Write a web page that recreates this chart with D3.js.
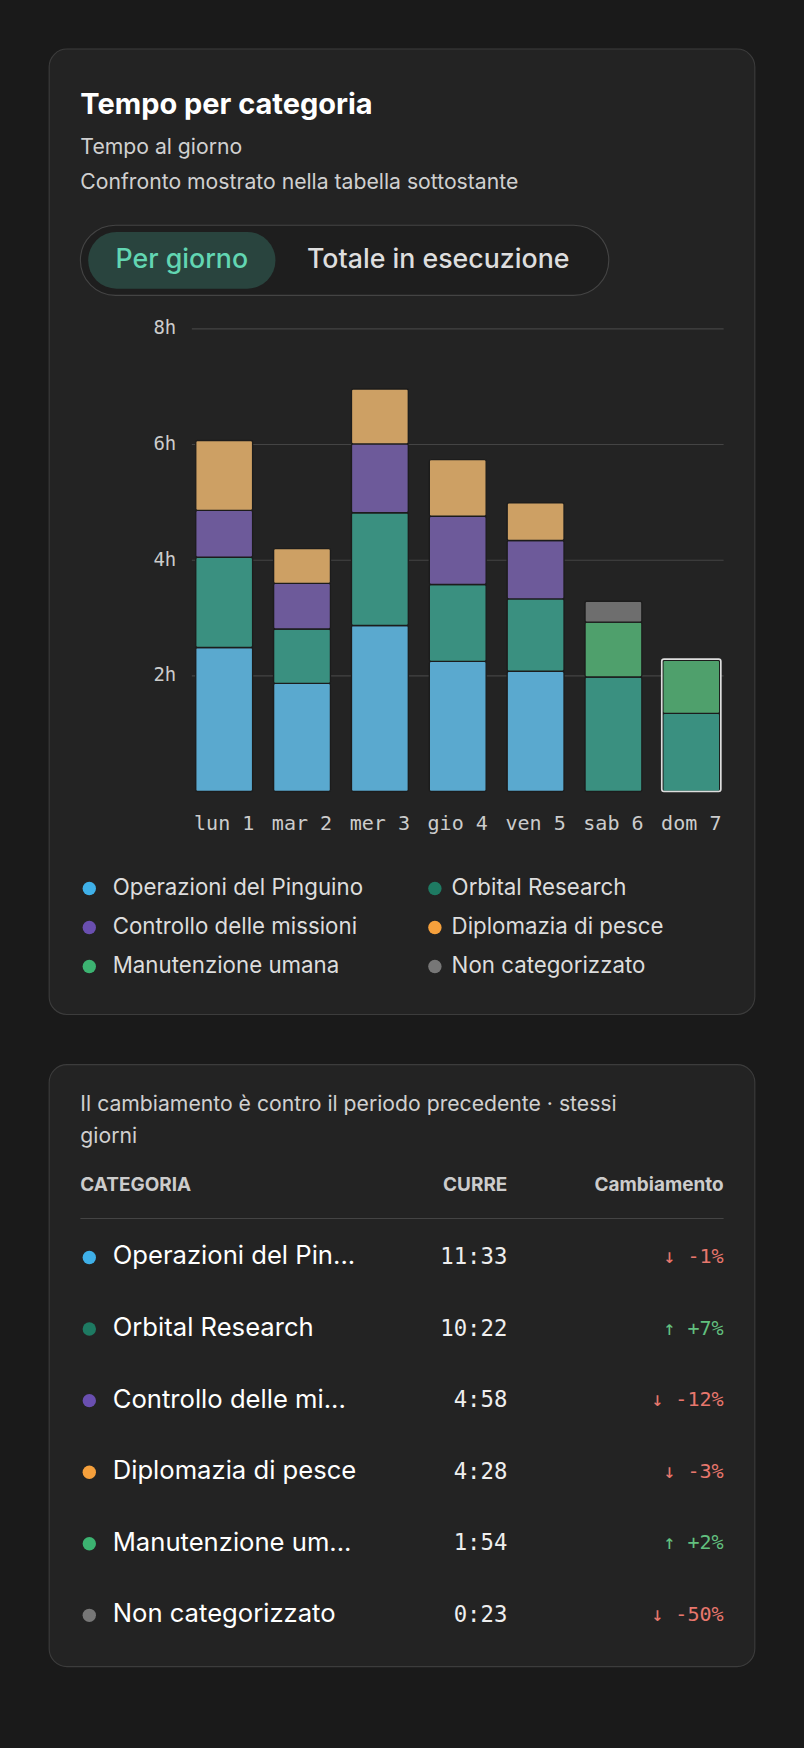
<!DOCTYPE html>
<html><head><meta charset="utf-8">
<script src="https://cdn.jsdelivr.net/npm/d3@7"></script>
<style>body{margin:0;background:#1a1a1a;}svg{display:block;}</style>
</head><body><svg id="c" width="804" height="1748" viewBox="0 0 721 1568"></svg>
<script>
const days = ["lun 1","mar 2","mer 3","gio 4","ven 5","sab 6","dom 7"];
const categories = ["Operazioni del Pinguino","Orbital Research","Controllo delle missioni","Diplomazia di pesce","Manutenzione umana","Non categorizzato"];
const pinguino = [2.49,1.87,2.87,2.25,2.08,0,0];
const orbital = [1.56,0.94,1.95,1.33,1.25,1.98,1.35];
const controllo = [0.81,0.79,1.19,1.18,1.01,0,0];
const diplomazia = [1.21,0.60,0.95,0.98,0.65,0,0];
const manutenzione = [0,0,0,0,0,0.95,0.92];
const noncat = [0,0,0,0,0,0.36,0];
const yTicks = [2,4,6,8];
const tableNames = ["Operazioni del Pin...","Orbital Research","Controllo delle mi...","Diplomazia di pesce","Manutenzione um...","Non categorizzato"];
const tableTimes = ["11:33","10:22","4:58","4:28","1:54","0:23"];
const tableChange = [-1,7,-12,-3,2,-50];

const barColors = ["#5aa9cf","#3a9080","#6d5a9a","#cda064","#4fa06c","#6e6e6e"];
const dotColors = ["#3fb0e8","#1e7a62","#6a4fb0","#f5a03c","#3cb371","#777"];
const series = [pinguino,orbital,controllo,diplomazia,manutenzione,noncat];
const sans = "Inter, 'Noto Sans', sans-serif", mono = "'DejaVu Sans Mono', monospace";

const svg = d3.select("#c");
function card(y,h){svg.append("rect").attr("x",44).attr("y",y).attr("width",633).attr("height",h).attr("rx",16).attr("fill","#232323").attr("stroke","#3c3c3c");}
card(44,866); card(955,540);
const T=(x,y,t,o={})=>svg.append("text").attr("x",x).attr("y",y).text(t).attr("font-family",o.f||sans).attr("font-size",o.s||19).attr("fill",o.c||"#d0d0d0").attr("font-weight",o.w||400).attr("text-anchor",o.a||"start").attr("dominant-baseline","middle");

T(72,95,"Tempo per categoria",{s:26,w:700,c:"#fff"});
T(72,133,"Tempo al giorno");
T(72,164,"Confronto mostrato nella tabella sottostante");
svg.append("rect").attr("x",72).attr("y",202).attr("width",474).attr("height",63).attr("rx",31.5).attr("fill","#1e1e1e").attr("stroke","#444");
svg.append("rect").attr("x",79).attr("y",208).attr("width",168).attr("height",51).attr("rx",25.5).attr("fill","#29443e");
T(163,234,"Per giorno",{s:24,w:500,c:"#62d6b2",a:"middle"});
T(393,234,"Totale in esecuzione",{s:24,w:500,c:"#dedede",a:"middle"});

const x = d3.scaleBand().domain(days).range([172,649]).paddingInner(0.27).paddingOuter(0.05);
const y = d3.scaleLinear().domain([0,8]).range([710,295]);
const g = svg.append("g");
g.selectAll("line.grid").data(yTicks).join("line").attr("x1",172).attr("x2",649).attr("y1",d=>y(d)).attr("y2",d=>y(d)).attr("stroke","#444");
g.selectAll("text.yt").data(yTicks).join("text").attr("x",158).attr("y",d=>y(d)).text(d=>d+"h").attr("text-anchor","end").attr("dominant-baseline","middle").attr("font-family",mono).attr("font-size",17).attr("fill","#ccc");
const table = days.map((d,i)=>{const o={day:d};categories.forEach((c,k)=>o[c]=series[k][i]);return o;});
const stacked = d3.stack().keys(categories)(table);
stacked.forEach((layer,k)=>{
  g.selectAll(null).data(layer.filter(s=>s[1]-s[0]>0)).join("rect")
   .attr("x",s=>x(s.data.day)).attr("width",x.bandwidth())
   .attr("y",s=>y(s[1])).attr("height",s=>y(s[0])-y(s[1]))
   .attr("fill",barColors[k]).attr("stroke","#1c1c1c").attr("stroke-width",1.2).attr("rx",1.5);
});
const last = table[6], tot = d3.sum(categories,c=>last[c]);
g.append("rect").attr("x",x(days[6])-1).attr("width",x.bandwidth()+2).attr("y",y(tot)-1).attr("height",y(0)-y(tot)+1).attr("fill","none").attr("stroke","#ddd").attr("stroke-width",1.5).attr("rx",2);
g.selectAll("text.xl").data(days).join("text").attr("x",d=>x(d)+x.bandwidth()/2).attr("y",740).text(d=>d).attr("text-anchor","middle").attr("dominant-baseline","middle").attr("font-family",mono).attr("font-size",18).attr("fill","#ccc");

categories.forEach((c,i)=>{
  const cx = i%2? 390:80, cy = 797+Math.floor(i/2)*35;
  svg.append("circle").attr("cx",cx).attr("cy",cy).attr("r",6).attr("fill",dotColors[i]);
  T(cx+ (i%2?15:21),cy,c,{s:20,c:"#ddd"});
});

T(72,991,"Il cambiamento è contro il periodo precedente · stessi");
T(72,1020,"giorni");
T(72,1064,"CATEGORIA",{s:17,w:700,c:"#ccc"});
T(455,1064,"CURRE",{s:17,w:700,c:"#ccc",a:"end"});
T(649,1064,"Cambiamento",{s:17,w:700,c:"#ccc",a:"end"});
svg.append("line").attr("x1",72).attr("x2",649).attr("y1",1093).attr("y2",1093).attr("stroke","#444");
tableNames.forEach((n,i)=>{
  const cy = 1128+i*64.2;
  svg.append("circle").attr("cx",80).attr("cy",cy).attr("r",6).attr("fill",dotColors[i]);
  T(101,cy,n,{s:23,c:"#fff"});
  T(455,cy,tableTimes[i],{f:mono,s:20,c:"#eee",a:"end"});
  const v=tableChange[i];
  T(649,cy,(v<0?"↓ ":"↑ +")+v+"%",{f:mono,s:18,c:v<0?"#e8776d":"#62c07f",a:"end"});
});
</script></body></html>
